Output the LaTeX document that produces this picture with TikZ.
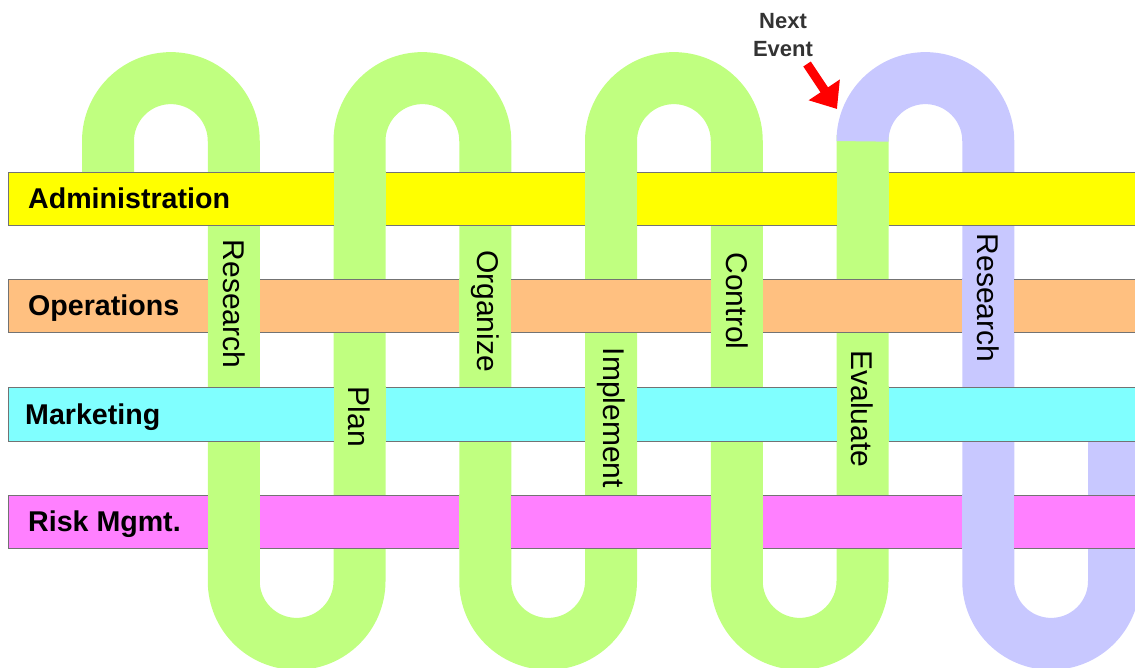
\documentclass[tikz,border=0pt]{standalone}
\usepackage{fontspec}
\setmainfont{Liberation Sans}
\usetikzlibrary{arrows.meta}

\definecolor{loopgreen}{RGB}{192,255,128}
\definecolor{looplilac}{RGB}{200,200,255}
\definecolor{adminyellow}{RGB}{255,255,0}
\definecolor{opsorange}{RGB}{255,192,128}
\definecolor{mktcyan}{RGB}{128,255,255}
\definecolor{riskpink}{RGB}{255,128,255}

\begin{document}
\begin{tikzpicture}[x=1pt,y=-1pt]
    \tikzstyle{green strip}=[
        draw = loopgreen,
        line width = 52pt
    ]
    \tikzstyle{lilac strip}=[
        draw = looplilac,
        line width = 52pt
    ]
    \tikzstyle{bar}=[
        draw = black!55,
        line width = 1pt
    ]
    \tikzstyle{bar label}=[
        anchor = base west,
        inner sep = 0pt,
        font = \fontsize{28.6}{30}\selectfont\bfseries
    ]
    \tikzstyle{phase label}=[
        rotate = -90,
        inner sep = 0pt,
        font = \fontsize{30}{31}\selectfont
    ]

    \clip (0,0) rectangle (1135,667);

    % the loop, green part and the next (lilac) turn
    \draw[green strip] (108,200) -- (108,141)
        arc[start angle=180, end angle=0, radius=62.875pt] -- (233.75,581)
        arc[start angle=180, end angle=360, radius=62.875pt] -- (359.5,141)
        arc[start angle=180, end angle=0, radius=62.875pt] -- (485.25,581)
        arc[start angle=180, end angle=360, radius=62.875pt] -- (611,141)
        arc[start angle=180, end angle=0, radius=62.875pt] -- (736.75,581)
        arc[start angle=180, end angle=360, radius=62.875pt] -- (862.5,135);
    \draw[lilac strip] (862.5,135) -- (862.5,141)
        arc[start angle=180, end angle=0, radius=62.875pt] -- (988.25,581)
        arc[start angle=180, end angle=360, radius=62.875pt] -- (1114,414);

    % the bars
    \draw[bar, fill = adminyellow] (8,172) rectangle (1145,225);
    \draw[bar, fill = opsorange]   (8,279) rectangle (1145,332);
    \draw[bar, fill = mktcyan]     (8,387) rectangle (1145,441);
    \draw[bar, fill = riskpink]    (8,495) rectangle (1145,548);

    % where the loop runs over a bar
    \path[green strip] (233.75,278) edge (233.75,333);
    \path[green strip] (233.75,494) edge (233.75,549);
    \path[green strip] (359.5,171)  edge (359.5,226);
    \path[green strip] (359.5,386)  edge (359.5,442);
    \path[green strip] (485.25,278) edge (485.25,333);
    \path[green strip] (485.25,494) edge (485.25,549);
    \path[green strip] (611,171)    edge (611,226);
    \path[green strip] (611,386)    edge (611,442);
    \path[green strip] (736.75,278) edge (736.75,333);
    \path[green strip] (736.75,494) edge (736.75,549);
    \path[green strip] (862.5,171)  edge (862.5,226);
    \path[green strip] (862.5,386)  edge (862.5,442);
    \path[lilac strip] (988.25,278) edge (988.25,333);
    \path[lilac strip] (988.25,494) edge (988.25,549);

    \node[bar label] (admin) at (28,208)   {Administration};
    \node[bar label] (ops)   at (28,315)   {Operations};
    \node[bar label] (mkt)   at (25,424)   {Marketing};
    \node[bar label] (risk)  at (28,531)   {Risk Mgmt.};

    \node[phase label] (research)  at (233.75,304) {Research};
    \node[phase label] (plan)      at (359.5,417)  {Plan};
    \node[phase label] (organize)  at (485.25,311) {Organize};
    \node[phase label] (implement) at (611,418)    {Implement};
    \node[phase label] (control)   at (736.75,301) {Control};
    \node[phase label] (evaluate)  at (862.5,409)  {Evaluate};
    \node[phase label] (research2) at (988.25,298) {Research};

    \node[align = center, text = black!80, inner sep = 0pt,
          font = \fontsize{22}{28}\selectfont\bfseries] (next) at (783,35) {Next\\Event};
    \coordinate (tail) at (807,64);
    \coordinate (tip)  at (837,109);
    \draw[red, line width = 9pt, -{Triangle[length=23pt, width=36pt]}] (tail) -- (tip);

\end{tikzpicture}
\end{document}
